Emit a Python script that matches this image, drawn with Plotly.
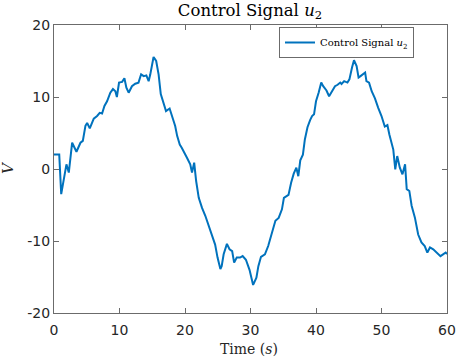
import plotly.graph_objects as go

time_s = [0.0, 0.07, 0.8, 1.1, 1.5, 1.9, 2.26, 2.77, 3.43, 4.04, 4.4, 4.8, 5.06, 5.46, 6.07, 6.58, 6.98, 7.34,
          7.7, 8.1, 8.6, 9.0, 9.37, 9.6, 9.93, 10.4, 10.75, 11.05, 11.4, 11.9, 12.4, 12.9, 13.3, 13.7,
          14.1, 14.45, 14.7, 15.2, 15.6, 15.97, 16.3, 16.7, 17.1, 17.65, 18.0, 18.5, 18.8, 19.2, 19.5,
          19.8, 20.3, 20.8, 21.07, 21.4, 21.7, 22.1, 22.3, 22.6, 23.1, 23.6, 24.1, 24.6, 24.97, 25.4,
          25.6, 25.9, 26.4, 26.8, 27.2, 27.5, 27.9, 28.4, 28.8, 29.3, 29.85, 30.4, 30.9, 31.2, 31.6,
          32.2, 32.7, 33.3, 33.8, 34.3, 34.8, 35.1, 35.8, 36.2, 36.6, 37.0, 37.3, 37.6, 38.0, 38.3,
          38.7, 39.1, 39.4, 39.7, 40.0, 40.4, 40.8, 41.1, 41.6, 42.0, 42.4, 42.9, 43.3, 43.7, 43.9,
          44.3, 44.8, 45.1, 45.5, 45.8, 46.2, 46.5, 46.8, 47.1, 47.5, 47.7, 48.1, 48.5, 49.0, 49.5,
          50.0, 50.5, 50.9, 51.2, 51.8, 52.1, 52.4, 52.8, 53.2, 53.6, 53.85, 54.25, 54.6, 55.1, 55.6,
          56.1, 56.6, 57.0, 57.4, 57.9, 58.4, 59.0, 59.4, 59.8, 60.0]
u2 = [2.0, 2.0, 2.0, -3.5, -1.2, 0.65, -0.5, 3.65, 2.4, 3.65, 3.9, 6.0, 6.4, 5.65, 7.0, 7.36, 7.8, 7.7,
      8.75, 9.4, 10.6, 11.1, 10.8, 10.0, 12.0, 12.1, 12.6, 11.3, 10.6, 11.5, 11.85, 12.0, 13.15, 12.9,
      13.0, 12.2, 13.15, 15.55, 15.0, 13.15, 10.4, 9.2, 8.05, 8.4, 7.36, 5.97, 4.6, 3.4, 2.96,
      2.5, 1.57, 0.65, -0.5, 0.88, -1.67, -4.0, -4.7, -5.4, -6.5, -7.9, -9.3, -10.5, -12.3, -13.9,
      -13.5, -11.85, -10.4, -11.15, -11.4, -13.0, -12.3, -12.3, -12.1, -12.6, -14.0, -16.1, -15.1, -13.5, -12.2,
      -11.85, -10.7, -8.8, -7.2, -6.8, -5.6, -4.0, -3.6, -1.9, -0.65, 0.18, -1.0, 1.2, 2.0, 4.1,
      5.8, 6.8, 7.36, 7.6, 9.4, 10.6, 12.0, 11.5, 10.9, 10.1, 10.8, 11.5, 11.7, 12.0, 11.8,
      12.2, 12.0, 12.45, 14.1, 15.1, 14.3, 12.7, 12.9, 13.15, 13.4, 12.2, 12.0, 10.8, 9.8, 8.5,
      7.36, 5.9, 6.1, 4.8, 2.7, -0.05, 1.8, 0.18, -0.74, 0.65, -2.8, -3.05, -5.1, -6.76, -9.1,
      -10.2, -10.7, -11.6, -10.9, -11.15, -11.6, -12.1, -11.85, -11.6, -11.8]

x_ticks = [0, 10, 20, 30, 40, 50, 60]
y_ticks = [-20, -10, 0, 10, 20]
y_tick_labels = ["-20", "-10", "0", "10", "20"]

axis_color = "#6b6b6b"
sans = "DejaVu Sans, sans-serif"
serif = "DejaVu Serif, serif"

W, H = 456, 359
L, R, T, B = 54, 9, 25, 46
PW, PH = W - L - R, H - T - B

fig = go.Figure()
fig.add_trace(go.Scatter(
    x=time_s, y=u2, mode="lines",
    line=dict(color="#0072BD", width=2),
    name="Control Signal <i>u</i><sub>2</sub>",
))

fig.update_layout(
    width=W, height=H,
    margin=dict(l=L, r=R, t=T, b=B, autoexpand=False),
    paper_bgcolor="white", plot_bgcolor="white",
    title=dict(text="Control Signal <i>u</i><sub>2</sub>", x=250 / W, xanchor="center",
               y=1 - 10 / H, yanchor="middle", font=dict(family=serif, size=16.5, color="black")),
    showlegend=True,
    legend=dict(x=(414 - L) / PW, y=(H - B - 27) / PH, xanchor="right", yanchor="top",
                bgcolor="white", bordercolor=axis_color, borderwidth=1,
                font=dict(family=serif, size=10, color="black"),
                tracegroupgap=0),
    xaxis=dict(range=[0, 60], tickvals=x_ticks, showgrid=False, zeroline=False, automargin=False,
               showline=True, linecolor=axis_color, linewidth=1, mirror="allticks",
               ticks="inside", ticklen=5, tickcolor=axis_color, ticklabelstandoff=4,
               tickfont=dict(family=sans, size=14, color="#262626")),
    yaxis=dict(range=[-20, 20], tickvals=y_ticks, ticktext=y_tick_labels, showgrid=False,
               zeroline=False, showline=True, linecolor=axis_color, linewidth=1, automargin=False,
               mirror="allticks", ticks="inside", ticklen=5, tickcolor=axis_color,
               tickfont=dict(family=sans, size=14, color="#262626")),
    annotations=[
        dict(text="Time (<i>s</i>)", x=(249 - L) / PW, y=(H - B - 349) / PH, xref="paper", yref="paper",
             xanchor="center", yanchor="middle", showarrow=False,
             font=dict(family=serif, size=14, color="#262626")),
        dict(text="<i>V</i>", x=(8 - L) / PW, y=(H - B - 168) / PH, xref="paper", yref="paper",
             xanchor="center", yanchor="middle", showarrow=False, textangle=-90,
             font=dict(family=serif, size=15, color="#262626")),
    ],
)

fig.write_html("out.html", config={"displayModeBar": False},
               post_script="document.body.style.margin='0';document.body.style.padding='0';")
